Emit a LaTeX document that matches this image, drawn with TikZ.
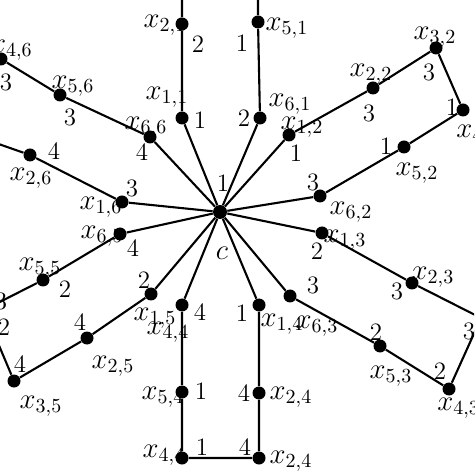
\documentclass[tikz,border=0pt]{standalone}
\begin{document}
\begin{tikzpicture}[x=0.5pt,y=-0.5pt,
  dot/.style={circle,fill=black,inner sep=0pt,minimum size=6.5pt},
  cdot/.style={circle,fill=black,inner sep=0pt,minimum size=7pt},
  lab/.style={inner sep=0pt,font=\fontsize{14}{16}\selectfont},
  num/.style={inner sep=0pt,font=\fontsize{12.5}{14}\selectfont},
  edge/.style={line width=1.05pt}]
\useasboundingbox (0,0) rectangle (474,474);
\clip (0,0) rectangle (474,474);
% ---- labels (drawn first, dots cover them) ----
\node[lab] (tc) at (222,253) {$c$};
\node[num] (t0) at (223,183) {1};
% branch 1
\node[lab] (l11) at (167,97) {$x_{1,1}$};  \node[num] (n11) at (200,120) {1};
\node[lab] (l21) at (165,25) {$x_{2,1}$};  \node[num] (n21) at (198,44) {2};
\node[lab] (l51) at (287,28) {$x_{5,1}$};  \node[num] (n51) at (242,43) {1};
\node[lab] (l61) at (290,104) {$x_{6,1}$}; \node[num] (n61) at (244,118) {2};
% branch 2
\node[lab] (l12) at (302,127) {$x_{1,2}$}; \node[num] (n12) at (296,153) {1};
\node[lab] (l22) at (371,74) {$x_{2,2}$};  \node[num] (n22) at (369,113) {3};
\node[lab] (l32) at (435,37) {$x_{3,2}$};  \node[num] (n32) at (429,72) {3};
\node[lab,anchor=west] (l42) at (456,135) {$x_{4,2}$}; \node[num] (n42) at (452,107) {1};
\node[lab] (l52) at (417,173) {$x_{5,2}$}; \node[num] (n52) at (386,146) {1};
\node[lab] (l62) at (351,212) {$x_{6,2}$}; \node[num] (n62) at (313,182) {3};
% branch 3
\node[lab] (l13) at (345,240) {$x_{1,3}$}; \node[num] (n13) at (317,251) {2};
\node[lab] (l23) at (433,277) {$x_{2,3}$}; \node[num] (n23) at (397,291) {3};
\node[num] (n33) at (469,331) {3};
\node[lab,anchor=west] (l43) at (437,408) {$x_{4,3}$}; \node[num] (n43) at (440,371) {2};
\node[lab] (l53) at (391,376) {$x_{5,3}$}; \node[num] (n53) at (376,332) {2};
\node[lab] (l63) at (317,326) {$x_{6,3}$}; \node[num] (n63) at (313,285) {3};
% branch 4
\node[lab] (l14) at (282,324) {$x_{1,4}$}; \node[num] (n14) at (242,313) {1};
\node[lab] (l24) at (291,397) {$x_{2,4}$}; \node[num] (n24) at (244,393) {4};
\node[lab] (l34) at (291,461) {$x_{2,4}$}; \node[num] (n34) at (245,447) {4};
\node[lab] (l44) at (164,455) {$x_{4,4}$}; \node[num] (n44) at (202,447) {1};
\node[lab] (l54) at (163,397) {$x_{5,4}$}; \node[num] (n54) at (201,391) {1};
\node[lab] (l64) at (168,332) {$x_{4,4}$}; \node[num] (n64) at (200,312) {4};
% branch 5
\node[lab] (l15) at (155,318) {$x_{1,5}$}; \node[num] (n15) at (144,280) {2};
\node[lab] (l25) at (113,366) {$x_{2,5}$}; \node[num] (n25) at (80,322) {4};
\node[lab] (l35) at (41,406) {$x_{3,5}$};  \node[num] (n35) at (20,364) {4};
\node[num] (n45a) at (1,301) {3};          \node[num] (n45b) at (4,327) {2};
\node[lab] (l55) at (40,268) {$x_{5,5}$};  \node[num] (n55) at (65,289) {2};
\node[lab] (l65) at (102,236) {$x_{6,5}$}; \node[num] (n65) at (133,248) {4};
% branch 6
\node[lab] (l16) at (101,207) {$x_{1,6}$}; \node[num] (n16) at (132,188) {3};
\node[lab] (l26) at (31,178) {$x_{2,6}$};  \node[num] (n26) at (54,151) {4};
\node[lab,anchor=east] (l46) at (33,50) {$x_{4,6}$}; \node[num] (n46) at (6,82) {3};
\node[lab] (l56) at (73,86) {$x_{5,6}$};   \node[num] (n56) at (70,117) {3};
\node[lab] (l66) at (146,127) {$x_{6,6}$}; \node[num] (n66) at (142,152) {4};
% ---- vertices ----
\node[cdot] (c) at (220,212) {};
\node[dot] (v11) at (182,118) {}; \node[dot] (v21) at (182,24) {};
\coordinate (v31) at (182,-60); \coordinate (v41) at (258,-60);
\node[dot] (v51) at (258,22) {}; \node[dot] (v61) at (260,118) {};
\node[dot] (v12) at (289,135) {}; \node[dot] (v22) at (373,88) {};
\node[dot] (v32) at (436,48) {}; \node[dot] (v42) at (463,110) {};
\node[dot] (v52) at (404,147) {}; \node[dot] (v62) at (320,196) {};
\node[dot] (v13) at (322,233) {}; \node[dot] (v23) at (412,283) {};
\node[dot] (v33) at (481,318) {}; \node[dot] (v43) at (449,389) {};
\node[dot] (v53) at (380,346) {}; \node[dot] (v63) at (290,296) {};
\node[dot] (v14) at (259,305) {}; \node[dot] (v24) at (259,393) {};
\node[dot] (v34) at (259,458) {}; \node[dot] (v44) at (182,458) {};
\node[dot] (v54) at (182,392) {}; \node[dot] (v64) at (182,305) {};
\node[dot] (v15) at (151,294) {}; \node[dot] (v25) at (87,338) {};
\node[dot] (v35) at (14,381) {}; \coordinate (v45) at (-16,310);
\node[dot] (v55) at (43,280) {}; \node[dot] (v65) at (120,234) {};
\node[dot] (v16) at (122,202) {}; \node[dot] (v26) at (30,155) {};
\coordinate (v36) at (-30,134); \node[dot] (v46) at (1,59) {};
\node[dot] (v56) at (60,95) {}; \node[dot] (v66) at (150,137) {};
% ---- edges ----
\draw[edge] (c) -- (v11) -- (v21) -- (v31);
\draw[edge] (v41) -- (v51) -- (v61) -- (c);
\draw[edge] (c) -- (v12) -- (v22) -- (v32) -- (v42) -- (v52) -- (v62) -- (c);
\draw[edge] (c) -- (v13) -- (v23) -- (v33) -- (v43) -- (v53) -- (v63) -- (c);
\draw[edge] (c) -- (v14) -- (v24) -- (v34) -- (v44) -- (v54) -- (v64) -- (c);
\draw[edge] (c) -- (v15) -- (v25) -- (v35) -- (v45) -- (v55) -- (v65) -- (c);
\draw[edge] (c) -- (v16) -- (v26) -- (v36) -- (v46) -- (v56) -- (v66) -- (c);
\end{tikzpicture}
\end{document}
